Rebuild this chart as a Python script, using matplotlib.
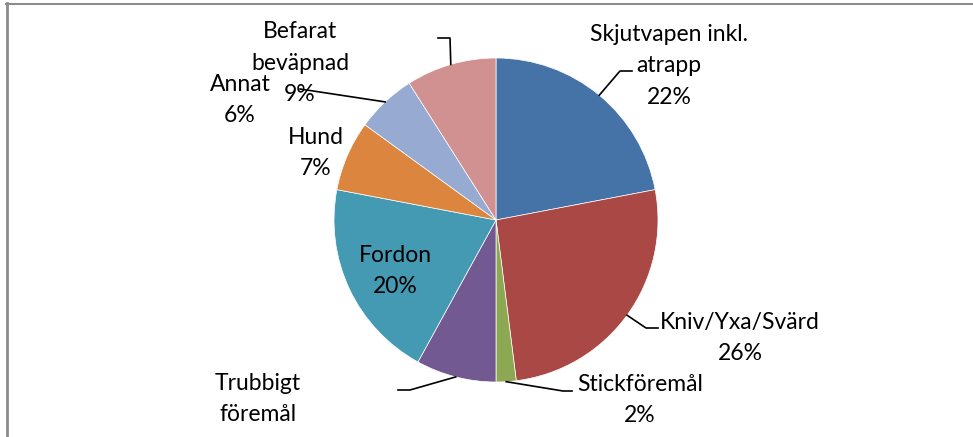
import numpy as np
import matplotlib.pyplot as plt

plt.rcParams['font.family'] = ['Lato', 'DejaVu Sans']

categories = ["Skjutvapen inkl.\natrapp", "Kniv/Yxa/Svärd", "Stickföremål",
              "Trubbigt\nföremål", "Fordon", "Hund", "Annat", "Befarat\nbeväpnad"]
shares = [22, 26, 2, 8, 20, 7, 6, 9]
colors = ["#4673A7", "#AA4845", "#8CA853", "#725992", "#4499B3", "#DC853F",
          "#96AAD2", "#D09190"]
# the "Trubbigt föremål" percentage falls below the chart edge in the original
show_pct = [True, True, True, False, True, True, True, True]

# label centres and leader elbows/ends in pixel coords (None = no leader)
label_pos = [(669, 66), (740, 338), (640, 400), (258, 399),
             (395, 271), (316, 153), (240, 100), (300, 63)]
leaders = [[(620, 71), (632, 71)], [(646, 328), (658, 328)],
           [(563, 391), (572, 391)], [(410, 390), (398, 390)],
           None, None, [(300, 89)], [(450, 38), (438, 38)]]

W, H = 973, 437
cx, cy, r = 496, 220, 162

fig = plt.figure(figsize=(W / 100, H / 100), dpi=100)
ax = fig.add_axes([0, 0, 1, 1])

# y axis is inverted below, so counterclock=True draws clockwise on screen
wedges, _ = ax.pie(shares, colors=colors, startangle=-90, counterclock=True,
                   center=(cx, cy), radius=r, frame=True,
                   wedgeprops=dict(edgecolor='white', linewidth=0.5))
ax.set_xlim(0, W)
ax.set_ylim(H, 0)
ax.set_aspect('equal')
ax.axis('off')

for w, name, pct, show, pos, lead in zip(wedges, categories, shares, show_pct,
                                         label_pos, leaders):
    label = f"{name}\n{pct}%" if show else name
    ax.text(pos[0], pos[1], label, ha='center', va='center',
            fontsize=16.5, linespacing=1.6, color='black')
    if lead is not None:
        mid = np.deg2rad((w.theta1 + w.theta2) / 2)
        start = (cx + r * np.cos(mid), cy + r * np.sin(mid))
        pts = [start] + lead
        ax.plot([p[0] for p in pts], [p[1] for p in pts], color='black', lw=1.2)

# chart frame (top and left edges visible)
ax.plot([6, W], [3.5, 3.5], color='#8c8c8c', lw=1.5, clip_on=False)
ax.plot([6.5, 6.5], [3, H], color='#8c8c8c', lw=2, clip_on=False)

fig.savefig('out.png', dpi=100)
